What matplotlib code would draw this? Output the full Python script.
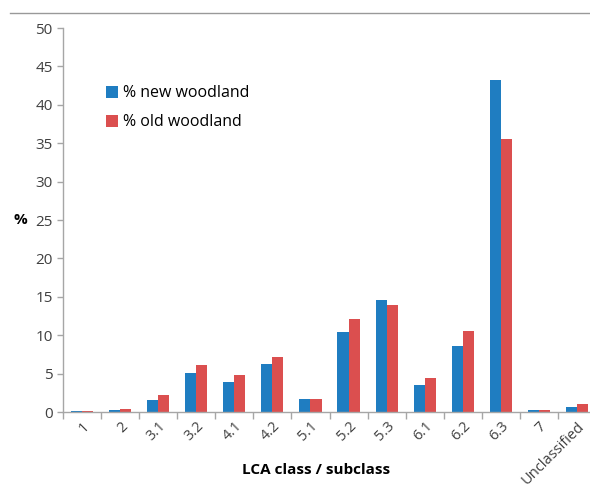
import numpy as np
import matplotlib
matplotlib.use('Agg')
import matplotlib.pyplot as plt
from matplotlib.lines import Line2D

categories = ['1', '2', '3.1', '3.2', '4.1', '4.2', '5.1', '5.2', '5.3',
              '6.1', '6.2', '6.3', '7', 'Unclassified']
new_woodland = [0.15, 0.25, 1.55, 5.1, 3.9, 6.3, 1.65, 10.4, 14.6,
                3.5, 8.65, 43.2, 0.2, 0.65]
old_woodland = [0.15, 0.35, 2.25, 6.1, 4.8, 7.1, 1.65, 12.15, 13.9,
                4.4, 10.5, 35.5, 0.2, 1.1]

plt.rcParams['font.family'] = ['Open Sans', 'DejaVu Sans']

blue = '#1f7dc1'
red = '#db4f4f'
axis_grey = '#a6a6a6'
text_grey = '#404040'

fig = plt.figure(figsize=(5.9, 4.87), dpi=100)
ax = fig.add_axes([63 / 590, 75 / 487, 533 / 590, 384 / 487])

x = np.arange(len(categories))
w = 0.29
ax.bar(x - w / 2, new_woodland, w, color=blue, label='% new woodland')
ax.bar(x + w / 2, old_woodland, w, color=red, label='% old woodland')

ax.set_xlim(-0.5, len(categories) - 0.5)
ax.set_ylim(0, 50)
ax.set_yticks(range(0, 51, 5))
ax.tick_params(axis='y', labelsize=11, labelcolor=text_grey, color=axis_grey,
               length=4, width=1)

# labels at category centres, tick marks at the boundaries
ax.set_xticks(x)
ax.set_xticklabels(categories, rotation=45, ha='right', va='top',
                   rotation_mode='anchor', fontsize=10.5, color=text_grey)
ax.tick_params(axis='x', which='major', length=0, pad=5)
ax.set_xticks(np.arange(-0.5, len(categories), 1), minor=True)
ax.tick_params(axis='x', which='minor', length=5, width=1, color=axis_grey)

for side in ['top', 'right']:
    ax.spines[side].set_visible(False)
for side in ['left', 'bottom']:
    ax.spines[side].set_color(axis_grey)
    ax.spines[side].set_linewidth(1)

fig.text(20 / 590, 1 - 220 / 487, '%', fontsize=11, fontweight='bold',
         ha='center', va='center', color='black')
fig.text(316 / 590, 1 - 470 / 487, 'LCA class / subclass', fontsize=11,
         fontweight='bold', ha='center', va='center', color='black')

ax.legend(loc='upper left', bbox_to_anchor=(0.068, 0.867), frameon=False,
          fontsize=11.5, handlelength=0.75, handleheight=0.75,
          handletextpad=0.35, labelspacing=0.8, borderaxespad=0)

# thin grey rule across the top of the figure
fig.add_artist(Line2D([10 / 590, 1.0], [1 - 13 / 487, 1 - 13 / 487],
                      color='#999999', linewidth=1))

fig.savefig('out.png', dpi=100)
